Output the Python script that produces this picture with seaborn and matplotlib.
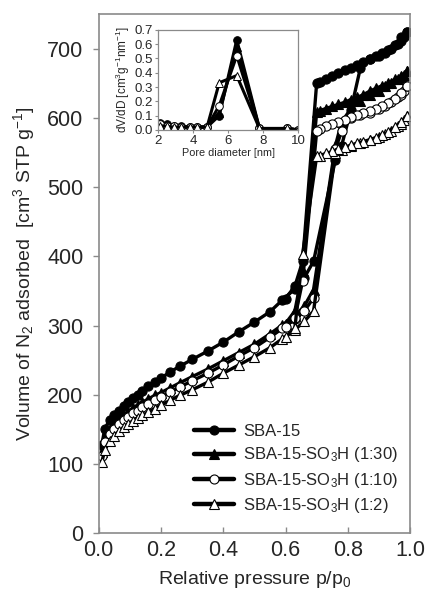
import matplotlib
matplotlib.use("Agg")
import matplotlib.pyplot as plt
import seaborn as sns
from matplotlib.lines import Line2D

# ---------------- data ----------------
samples = ["SBA-15", "SBA-15-SO$_3$H (1:30)", "SBA-15-SO$_3$H (1:10)", "SBA-15-SO$_3$H (1:2)"]

p_ads = [0.01, 0.02, 0.035, 0.05, 0.065, 0.08, 0.095, 0.11, 0.125, 0.14, 0.16, 0.18, 0.20,
         0.23, 0.26, 0.30, 0.35, 0.40, 0.45, 0.50, 0.55, 0.59, 0.63, 0.66, 0.69,
         0.76, 0.78, 0.81, 0.84, 0.87, 0.90, 0.92, 0.94, 0.96, 0.97, 0.98, 0.99]
ads_sba15 = [127, 151, 163, 171, 177, 184, 190, 195, 200, 205, 212, 218, 224, 233, 241, 251, 263,
             276, 291, 305, 320, 337, 353, 369, 393, 540, 560, 612, 672, 685, 690, 695,
             700, 707, 712, 718, 725]
ads_1_30 = [117, 139, 151, 159, 165, 170, 175, 181, 185, 189, 194, 199, 203, 210, 217, 226, 237,
            249, 261, 273, 288, 301, 314, 328, 352, 560, 594, 614, 625, 633, 640, 646,
            651, 656, 659, 663, 668]
ads_1_10 = [112, 131, 143, 151, 157, 163, 168, 173, 177, 182, 187, 192, 197, 204, 211, 220, 231,
            243, 256, 268, 283, 296, 309, 321, 340, 555, 581, 600, 604, 608, 613, 618,
            623, 630, 634, 640, 646]
ads_1_2 = [102, 120, 133, 141, 147, 153, 158, 162, 166, 170, 175, 180, 185, 192, 199, 207, 218,
           231, 243, 255, 268, 281, 294, 306, 321, 549, 554, 560, 564, 568, 573, 577,
           581, 588, 592, 597, 603]

p_des = [0.99, 0.97, 0.95, 0.93, 0.91, 0.89, 0.87, 0.85, 0.83, 0.81, 0.79, 0.77, 0.75, 0.73,
         0.71, 0.70, 0.655, 0.63, 0.60]
des_sba15 = [725, 717, 706, 699, 694, 690, 685, 681, 677, 673, 669, 665, 661, 657, 653, 651, 393, 357, 339]
des_1_30 = [668, 661, 656, 651, 647, 643, 639, 634, 630, 627, 623, 620, 617, 614, 611, 609, 379, 321, 303]
des_1_10 = [646, 636, 628, 622, 617, 613, 610, 607, 604, 601, 598, 595, 592, 588, 584, 581, 365, 311, 298]
des_1_2 = [603, 594, 587, 580, 576, 572, 569, 566, 564, 561, 558, 555, 552, 549, 546, 545, 404, 296, 283]

pore_d = [2.1, 2.5, 2.9, 3.3, 3.8, 4.2, 4.8, 5.5, 6.5, 7.8, 9.4, 10.0]
psd_sba15 = [0.05, 0.04, 0.03, 0.025, 0.02, 0.02, 0.02, 0.10, 0.63, 0.01, 0.01, 0.0]
psd_1_30 = [0.04, 0.03, 0.025, 0.02, 0.02, 0.02, 0.02, 0.12, 0.58, 0.01, 0.01, 0.0]
psd_1_10 = [0.04, 0.03, 0.025, 0.02, 0.02, 0.02, 0.02, 0.17, 0.52, 0.01, 0.01, 0.0]
psd_1_2 = [0.03, 0.025, 0.02, 0.02, 0.02, 0.02, 0.02, 0.33, 0.38, 0.01, 0.01, 0.0]

x_ticks = [0.0, 0.2, 0.4, 0.6, 0.8, 1.0]
y_ticks = [0, 100, 200, 300, 400, 500, 600, 700]
inset_x_ticks = [2, 4, 6, 8, 10]
inset_y_ticks = [0.0, 0.1, 0.2, 0.3, 0.4, 0.5, 0.6, 0.7]

# ---------------- style ----------------
sns.set_style("ticks")
plt.rcParams["font.family"] = ["Liberation Sans", "DejaVu Sans"]
plt.rcParams["mathtext.fontset"] = "custom"
plt.rcParams["mathtext.rm"] = "Liberation Sans"
plt.rcParams["mathtext.it"] = "Liberation Sans:italic"
plt.rcParams["mathtext.default"] = "regular"

markers = ["o", "^", "o", "^"]
faces = ["black", "black", "white", "white"]
ads_sets = [ads_sba15, ads_1_30, ads_1_10, ads_1_2]
des_sets = [des_sba15, des_1_30, des_1_10, des_1_2]
psd_sets = [psd_sba15, psd_1_30, psd_1_10, psd_1_2]
SPINE = "#8a8a8a"

fig = plt.figure(figsize=(4.25, 5.96), dpi=100)
ax = fig.add_axes([0.232, 0.1057, 0.733, 0.870])


def draw(axis, x, y, marker, face, ms, lw, mew):
    sns.lineplot(x=x, y=y, ax=axis, sort=False, estimator=None, color="black",
                 marker=marker, markerfacecolor=face, markeredgecolor="black",
                 markersize=ms, markeredgewidth=mew, linewidth=lw, clip_on=True)


for m, f, a, d in zip(markers, faces, ads_sets, des_sets):
    draw(ax, p_ads, a, m, f, 6.6, 2.4, 0.8)
    draw(ax, p_des, d, m, f, 6.6, 2.4, 0.8)

ax.set_xlim(0, 1.0)
ax.set_ylim(0, 750)
ax.set_xticks(x_ticks)
ax.set_xticklabels([f"{v:.1f}" for v in x_ticks])
ax.set_yticks(y_ticks)
ax.tick_params(axis="both", labelsize=15.5, color=SPINE, width=1.0, length=4)
ax.tick_params(axis="x", direction="in", pad=5)
ax.tick_params(axis="y", direction="out", pad=7)
for s in ax.spines.values():
    s.set_color(SPINE)
    s.set_linewidth(1.2)
    s.set_visible(True)
ax.set_xlabel("Relative pressure p/p$_0$", fontsize=14, labelpad=6)
ax.set_ylabel("Volume of N$_2$ adsorbed  [cm$^3$ STP g$^{-1}$]", fontsize=14, labelpad=7)

handles = [Line2D([0], [0], color="black", lw=3.2, marker=m, markerfacecolor=f,
                  markeredgecolor="black", markersize=6.5, markeredgewidth=0.8)
           for m, f in zip(markers, faces)]
ax.legend(handles, samples, loc="lower right", bbox_to_anchor=(1.0, 0.012), frameon=False,
          fontsize=12, handlelength=2.4, handletextpad=0.55, labelspacing=0.38,
          borderaxespad=0.3)

# ---------------- inset ----------------
ins = fig.add_axes([0.372, 0.782, 0.329, 0.168])
for m, f, v in zip(markers, faces, psd_sets):
    draw(ins, pore_d, v, m, f, 5.5, 2.2, 0.7)
ins.set_xlim(2, 10)
ins.set_ylim(0, 0.7)
ins.set_xticks(inset_x_ticks)
ins.set_yticks(inset_y_ticks)
ins.set_yticklabels([f"{v:.1f}" for v in inset_y_ticks])
ins.tick_params(axis="both", labelsize=9.5, color=SPINE, width=0.8, length=2, pad=1.5)
for s in ins.spines.values():
    s.set_color(SPINE)
    s.set_linewidth(0.9)
    s.set_visible(True)
ins.set_xlabel("Pore diameter [nm]", fontsize=7.8, labelpad=1)
ins.set_ylabel("dV/dD [cm$^3$g$^{-1}$nm$^{-1}$]", fontsize=8.5, labelpad=2)

fig.savefig("out.png", dpi=100)
